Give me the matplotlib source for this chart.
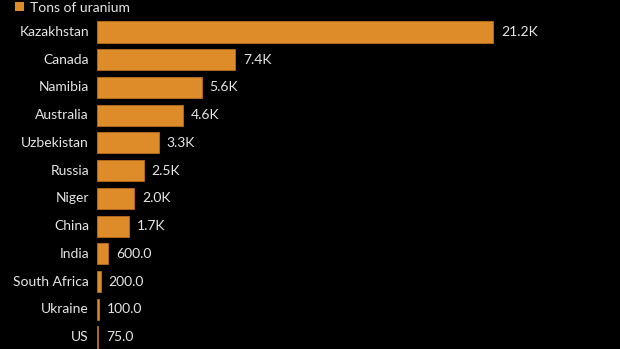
import matplotlib
matplotlib.use('Agg')
import matplotlib.pyplot as plt
from matplotlib.patches import Rectangle

# ========== DATA ==========
countries = ["Kazakhstan", "Canada", "Namibia", "Australia", "Uzbekistan", "Russia",
             "Niger", "China", "India", "South Africa", "Ukraine", "US"]
tons = [21200, 7400, 5600, 4600, 3300, 2500, 2000, 1700, 600, 200, 100, 75]
labels = ["21.2K", "7.4K", "5.6K", "4.6K", "3.3K", "2.5K", "2.0K", "1.7K",
          "600.0", "200.0", "100.0", "75.0"]

BG = "#000000"
BAR = "#DE8C29"
TXT = "#E6E6E6"
FONT = ["Lato", "DejaVu Sans"]
FS = 10

# ========== LAYOUT ==========
W, H = 620, 349
fig = plt.figure(figsize=(W / 100, H / 100), dpi=100, facecolor=BG)

left_px, right_px = 97, 600
row0, row_step = 32, 27.73
ax = fig.add_axes([left_px / W, 0, (right_px - left_px) / W, 1])
ax.set_facecolor(BG)
ax.axis('off')
ax.set_xlim(0, tons[0] * (right_px - left_px) / 396)
ax.set_ylim((H - row0) / row_step, -row0 / row_step)

y = list(range(len(countries)))
ax.barh(y, tons, height=0.76, color=BAR, edgecolor="#B86E1C", linewidth=0.6)

px = ax.get_xlim()[1] / (right_px - left_px)
for yi, v, lab, name in zip(y, tons, labels, countries):
    ax.text(v + 8 * px, yi, lab, color=TXT, fontsize=FS, va='center', ha='left', family=FONT)
    ax.text(-8 * px, yi, name, color=TXT, fontsize=FS, va='center', ha='right', family=FONT)

# legend
fig.add_artist(Rectangle((15 / W, 1 - 11 / H), 9 / W, 9 / H, transform=fig.transFigure,
                         color=BAR, linewidth=0))
fig.text(30 / W, 1 - 7.5 / H, "Tons of uranium", color=TXT, fontsize=FS,
         va='center', ha='left', family=FONT)

fig.savefig("out.png", dpi=100, facecolor=BG)
